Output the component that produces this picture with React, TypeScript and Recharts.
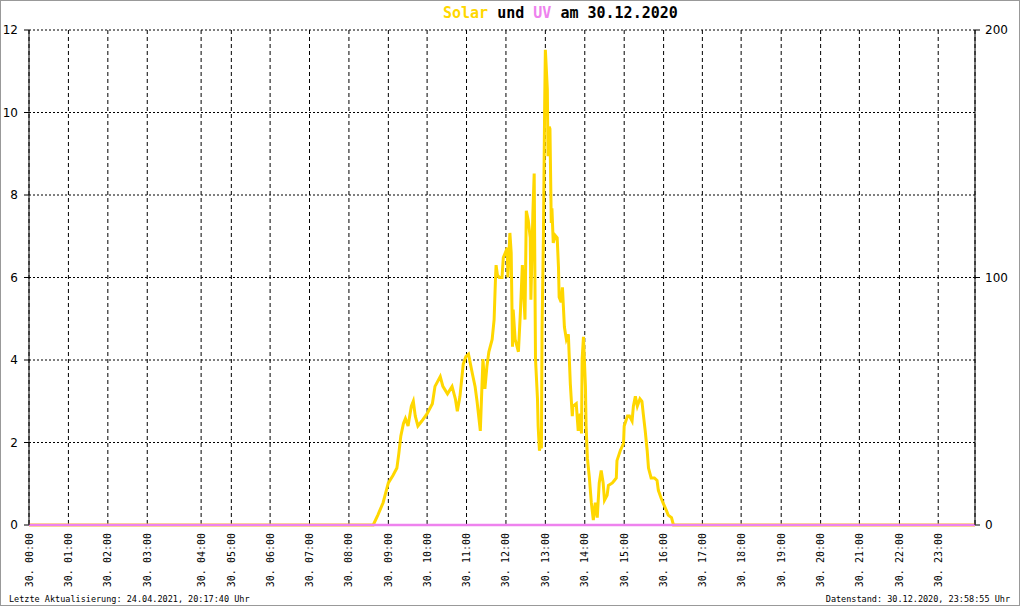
import { ComposedChart, Line, XAxis, YAxis, CartesianGrid } from 'recharts';

// x positions are minutes of the day (first sample after each full hour)
const tickMinutes = [0, 60, 120, 180, 262, 308, 367, 427, 487, 547, 606, 666, 726, 786, 846, 906, 966, 1025, 1084, 1145, 1205, 1264, 1325, 1384];
const tickLabels = [
  '30. 00:00', '30. 01:00', '30. 02:00', '30. 03:00', '30. 04:00', '30. 05:00',
  '30. 06:00', '30. 07:00', '30. 08:00', '30. 09:00', '30. 10:00', '30. 11:00',
  '30. 12:00', '30. 13:00', '30. 14:00', '30. 15:00', '30. 16:00', '30. 17:00',
  '30. 18:00', '30. 19:00', '30. 20:00', '30. 21:00', '30. 22:00', '30. 23:00',
];

// Solar (W/m², right axis)
const solarMinutes = [
  0, 519, 524, 531, 539, 547, 554, 560, 563, 566, 570, 573, 577, 582, 585, 588, 592, 598,
  606, 614, 618, 626, 630, 637, 644, 649, 652, 656, 661, 665, 669, 675, 679, 682, 687, 691,
  694, 697, 700, 705, 708, 710, 711, 713, 716, 720, 722, 725, 728, 729, 732, 734, 736, 737,
  740, 745, 748, 751, 752, 755, 757, 760, 763, 764, 767, 769, 771, 774, 775, 777, 778, 780,
  781, 783, 785, 786, 789, 790, 792, 793, 795, 796, 798, 801, 804, 806, 807, 810, 812, 815,
  818, 821, 824, 827, 828, 833, 836, 839, 841, 842, 844, 847, 848, 850, 853, 856, 859, 862,
  865, 868, 871, 874, 876, 880, 882, 888, 891, 894, 895, 900, 905, 906, 911, 914, 918, 920,
  923, 926, 930, 933, 935, 938, 941, 943, 947, 952, 956, 958, 962, 965, 970, 973, 978, 981,
  1440,
];
const solarValues = [
  0, 0, 0, 4, 9, 17, 20, 23, 29, 36, 41, 43, 40, 48, 50, 44, 40, 42,
  45, 49, 56, 60, 56, 53, 56, 51, 46, 52, 65, 68, 69, 61, 56, 50, 38, 67,
  55, 64, 70, 75, 83, 99, 105, 101, 100, 100, 108, 110, 112, 100, 118, 110, 72, 87,
  75, 70, 86, 105, 99, 83, 127, 123, 116, 91, 126, 142, 67, 51, 40, 30, 32, 31,
  80, 116, 171, 192, 176, 149, 161, 160, 122, 128, 114, 117, 116, 104, 92, 90, 96, 80,
  75, 77, 57, 44, 48, 49, 38, 45, 37, 67, 76, 56, 40, 27, 19, 9, 2, 9,
  3, 17, 22, 17, 10, 12, 16, 17, 18, 19, 26, 30, 33, 40, 44, 44, 42, 48,
  52, 48, 51, 50, 45, 38, 30, 23, 19, 19, 18, 14, 11, 9, 6, 4, 3, 0,
  0,
];

// UV index (left axis)
const uvMinutes = [0, 1440];
const uvValues = [0, 0];

const leftTicks = [0, 2, 4, 6, 8, 10, 12];
const rightTicks = [0, 100, 200];

const solarData = solarMinutes.map((m, i) => ({ m, solar: solarValues[i] }));
const uvData = uvMinutes.map((m, i) => ({ m, uv: uvValues[i] }));

const MONO = '"DejaVu Sans Mono", monospace';
const SOLAR = '#FFD700';
const UV = '#EE82EE';

const XTick = ({ x, y, payload }: any) => {
  const idx = tickMinutes.indexOf(payload.value);
  return (
    <g transform={`translate(${x},${y})`}>
      <text transform="rotate(-90)" x={-8} y={0} dy="0.35em" textAnchor="end" fontFamily={MONO} fontSize={10} fill="#000">
        {tickLabels[idx]}
      </text>
    </g>
  );
};

export default function App() {
  return (
    <div style={{ position: 'absolute', left: 0, top: 0, width: 1020, height: 606, background: '#fff' }}>
      <ComposedChart width={1020} height={606} margin={{ top: 30, right: 0, bottom: 0, left: 0 }}>
        <CartesianGrid yAxisId="left" vertical={false} stroke="#000" strokeDasharray="2 2" />
        <CartesianGrid yAxisId="left" horizontal={false} stroke="#000" strokeDasharray="4 3" />
        <XAxis
          dataKey="m"
          type="number"
          domain={[0, 1440]}
          ticks={tickMinutes}
          interval={0}
          height={81}
          tickSize={0}
          tickMargin={0}
          axisLine={false}
          tickLine={false}
          tick={<XTick />}
        />
        <YAxis
          yAxisId="left"
          orientation="left"
          domain={[0, 12]}
          ticks={leftTicks}
          width={29}
          tickSize={5}
          tickMargin={6}
          stroke="#000"
          tick={{ fill: '#000', fontSize: 12, fontFamily: '"DejaVu Sans", sans-serif' }}
        />
        <YAxis
          yAxisId="right"
          orientation="right"
          domain={[0, 200]}
          ticks={rightTicks}
          width={45}
          tickSize={5}
          tickMargin={5}
          stroke="#000"
          tick={{ fill: '#000', fontSize: 12, fontFamily: '"DejaVu Sans", sans-serif' }}
        />
        <Line
          yAxisId="right"
          data={solarData}
          dataKey="solar"
          type="linear"
          stroke={SOLAR}
          strokeWidth={3}
          dot={false}
          activeDot={false}
          isAnimationActive={false}
        />
        <Line
          yAxisId="left"
          data={uvData}
          dataKey="uv"
          type="linear"
          stroke={UV}
          strokeWidth={2.5}
          dot={false}
          activeDot={false}
          isAnimationActive={false}
        />
      </ComposedChart>
      <div style={{ position: 'absolute', left: 443, top: 4, fontFamily: MONO, fontWeight: 'bold', fontSize: 15, lineHeight: '18px', whiteSpace: 'pre', color: '#000' }}>
        <span style={{ color: SOLAR }}>Solar</span> und <span style={{ color: UV }}>UV</span> am 30.12.2020
      </div>
      <div style={{ position: 'absolute', left: 9, top: 594, fontFamily: MONO, fontSize: 8.5, lineHeight: '11px', whiteSpace: 'pre', color: '#000' }}>
        Letzte Aktualisierung: 24.04.2021, 20:17:40 Uhr
      </div>
      <div style={{ position: 'absolute', right: 10, top: 594, fontFamily: MONO, fontSize: 8.5, lineHeight: '11px', whiteSpace: 'pre', color: '#000' }}>
        Datenstand: 30.12.2020, 23:58:55 Uhr
      </div>
      <div style={{ position: 'absolute', left: 0, top: 0, width: 1020, height: 606, border: '1px solid #999', boxSizing: 'border-box', pointerEvents: 'none' }} />
    </div>
  );
}
